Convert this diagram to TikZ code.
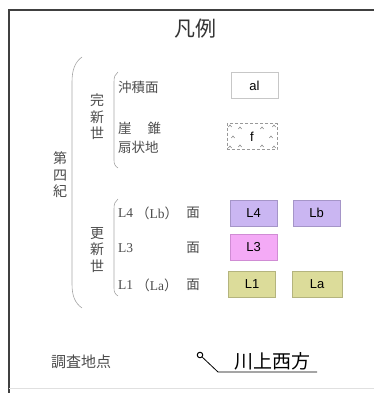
\documentclass[tikz,border=0pt]{standalone}
\usepackage{fontspec}
\usepackage{tikz}
\setmainfont{Noto Sans CJK JP}
\newfontfamily\boxfont{Liberation Sans}
\newfontfamily\latinfont{Liberation Serif}
\definecolor{lavender}{HTML}{CAB6F2}
\definecolor{lavenderline}{HTML}{A595C8}
\definecolor{pinkfill}{HTML}{F4AAF6}
\definecolor{pinkline}{HTML}{D08CD4}
\definecolor{khaki}{HTML}{DCDC9A}
\definecolor{khakiline}{HTML}{B4B47E}

\begin{document}
\begin{tikzpicture}[x=1pt, y=-1pt,
    brace/.style={draw=black!35, line width=0.6pt},
    lbl/.style={font=\fontsize{13.5}{13.5}\selectfont, text=black!70, inner sep=0pt},
    vlbl/.style={font=\fontsize{14}{16.5}\selectfont, text=black!70, align=center, inner sep=0pt},
    unit/.style={minimum width=47pt, minimum height=26pt, inner sep=0pt,
                 font=\boxfont\fontsize{13}{13}\selectfont, line width=0.6pt}]
    \useasboundingbox (0,0) rectangle (374,393);
    % Frame
    \draw[black!75, line width=1.1pt] (9,393) -- (9,10) -- (374,10);
    \draw[black!12, line width=0.5pt] (9,388) -- (374,388);

    \node[text=black!80] (title) at (195,29) {\fontsize{21}{21}\selectfont 凡例};

    % Braces
    \draw[brace] (82,57) .. controls (75,62) and (72,70) .. (72,82) -- (72,284) .. controls (72,296) and (75,303) .. (82,308);
    \draw[brace] (118,72) .. controls (115,74) and (114,77) .. (114,82) -- (114,160) .. controls (114,164) and (115,166) .. (118,168);
    \draw[brace] (118,199) .. controls (115,201) and (114,204) .. (114,209) -- (114,288) .. controls (114,292) and (115,294) .. (118,296);

    % Period labels
    \node[vlbl] (quaternary) at (60,175) {第\\四\\紀};
    \node[vlbl] (holocene) at (97,117) {完\\新\\世};
    \node[vlbl] (pleistocene) at (97,250) {更\\新\\世};

    % Holocene
    \node[lbl, anchor=west] (alluvial) at (118,87) {沖積面};
    \node[lbl, anchor=west] (talus) at (118,128) {崖\hspace{16pt}錐};
    \node[lbl, anchor=west] (fan) at (118,147) {扇状地};
    \node[unit, draw=black!22, fill=white] (al) at (254.5,85.5) {al};
    \node[unit, draw=black!40, densely dashed, fill=white, minimum width=50pt] (f) at (252,136.5) {f};
    \foreach \mx/\my in {240/128, 262/128, 233/137, 271/137, 240/146, 262/146, 230/126, 274/126, 230/147, 274/147}
        \draw[black!60, line width=0.4pt] (\mx-1.6,\my+1) -- (\mx,\my-1) -- (\mx+1.6,\my+1);

    % Pleistocene
    \node[lbl, anchor=west] (l4txt) at (118,213) {\latinfont L4};
    \node[lbl] (lbtxt) at (157,213) {（\latinfont Lb\normalfont）};
    \node[lbl] (l4men) at (193,213) {面};
    \node[lbl, anchor=west] (l3txt) at (118,248) {\latinfont L3};
    \node[lbl] (l3men) at (193,248) {面};
    \node[lbl, anchor=west] (l1txt) at (118,285) {\latinfont L1};
    \node[lbl] (latxt) at (157,285) {（\latinfont La\normalfont）};
    \node[lbl] (l1men) at (193,285) {面};

    \node[unit, draw=lavenderline, fill=lavender] (L4) at (253.5,213) {L4};
    \node[unit, draw=lavenderline, fill=lavender] (Lb) at (316.5,213) {Lb};
    \node[unit, draw=pinkline, fill=pinkfill] (L3) at (253.5,247.5) {L3};
    \node[unit, draw=khakiline, fill=khaki] (L1) at (252,284) {L1};
    \node[unit, draw=khakiline, fill=khaki, minimum width=50pt] (La) at (317,284) {La};

    % Survey point
    \node[lbl, font=\fontsize{15}{15}\selectfont] (survey) at (81,362) {調査地点};
    \node[draw, circle, line width=1pt, minimum size=5.5pt, inner sep=0pt] (pt) at (200,355) {};
    \coordinate (bend) at (218,372);
    \coordinate (uend) at (317,372);
    \draw[line width=0.8pt] (pt) -- (bend) -- (uend);
    \node[font=\fontsize{19}{19}\selectfont, inner sep=0pt] (site) at (272,361) {川上西方};
\end{tikzpicture}
\end{document}
